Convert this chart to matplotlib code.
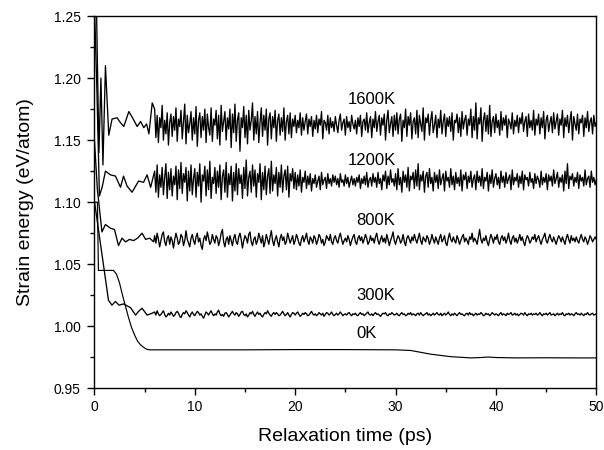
#!/usr/bin/env python
"""Strain energy relaxation at several temperatures."""

import matplotlib
matplotlib.use("Agg")
import matplotlib.pyplot as plt
import numpy as np
from matplotlib.ticker import MultipleLocator, FormatStrFormatter

# ---- data (energies in meV/atom unless noted) ----
# 0 K: smooth curve, eV/atom
T_0K = [0, 0.3, 0.4, 1.9, 2.2, 2.5, 2.8, 3.1, 3.4, 3.7, 4.0, 4.3, 4.6, 4.9, 5.2, 5.5,
        6.0, 10, 15, 20, 25, 30, 31.5, 32.5, 33.5, 34.5, 35.5, 36.5, 37.5, 38.5, 39.2,
        40, 42, 45, 48, 50]
E_0K = [1.100, 1.100, 1.045, 1.045, 1.042, 1.035, 1.025, 1.016, 1.007, 0.999, 0.993,
        0.988, 0.985, 0.983, 0.9815, 0.981, 0.981, 0.981, 0.981, 0.9812, 0.9812, 0.981,
        0.9805, 0.979, 0.9775, 0.9765, 0.9755, 0.975, 0.9745, 0.9748, 0.9752, 0.9748,
        0.9745, 0.9746, 0.9745, 0.9745]

# initial transients (t < 6 ps), eV/atom
T_300_EARLY = [0, 1.4, 1.75, 2.1, 2.45, 2.9, 3.6, 4.1, 4.4, 4.75, 5.25, 5.75]
E_300_EARLY = [1.101, 1.021, 1.017, 1.020, 1.017, 1.018, 1.015, 1.009, 1.012, 1.0145,
               1.009, 1.0105]
T_800_EARLY = [0, 0.3, 0.75, 1.1, 1.6, 2.0, 2.4, 2.75, 3.1, 3.5, 3.9, 4.3, 4.75, 5.1,
               5.5, 5.9]
E_800_EARLY = [1.15, 1.11, 1.076, 1.082, 1.079, 1.078, 1.065, 1.071, 1.068, 1.070, 1.069,
               1.071, 1.075, 1.070, 1.071, 1.068]
T_1200_EARLY = [0, 0.25, 0.5, 0.77, 1.1, 1.6, 2.1, 2.6, 2.9, 3.25, 3.75, 4.4, 4.9, 5.25,
                5.6]
E_1200_EARLY = [1.26, 1.19, 1.105, 1.112, 1.125, 1.122, 1.121, 1.112, 1.121, 1.113, 1.108,
                1.117, 1.116, 1.122, 1.112]
T_1600_EARLY = [0, 0.2, 0.45, 0.65, 0.85, 1.1, 1.43, 1.76, 2.26, 2.6, 2.93, 3.43, 3.8,
                4.26, 4.6, 4.92, 5.2, 5.43, 5.76]
E_1600_EARLY = [1.30, 1.26, 1.14, 1.20, 1.13, 1.21, 1.154, 1.167, 1.168, 1.164, 1.161,
                1.173, 1.168, 1.161, 1.165, 1.160, 1.163, 1.155, 1.180]

# fluctuating part, sampled every 0.125 ps from 6 ps to 50 ps (meV/atom)
T_START, T_STEP = 6.0, 0.125

E_1600 = [
    1175, 1152, 1170, 1148, 1168, 1160, 1178, 1150, 1166, 1155, 1172, 1146, 1164, 1171, 1153, 1169,
    1158, 1176, 1149, 1167, 1161, 1174, 1151, 1165, 1179, 1147, 1170, 1156, 1163, 1173, 1150, 1168,
    1155, 1177, 1145, 1166, 1172, 1152, 1169, 1158, 1175, 1148, 1171, 1160, 1154, 1176, 1149, 1167,
    1162, 1174, 1151, 1170, 1146, 1178, 1157, 1165, 1173, 1150, 1168, 1159, 1175, 1144, 1171, 1156,
    1179, 1149, 1166, 1172, 1141, 1168, 1160, 1177, 1152, 1170, 1147, 1174, 1158, 1166, 1180, 1150,
    1169, 1155, 1173, 1148, 1164, 1176, 1153, 1170, 1158, 1175, 1146, 1167, 1172, 1151, 1169, 1160,
    1174, 1149, 1166, 1171, 1154, 1168, 1157, 1176, 1150, 1165, 1170, 1155, 1172, 1152, 1167, 1161,
    1170, 1156, 1166, 1160, 1172, 1154, 1168, 1158, 1165, 1171, 1155, 1167, 1161, 1169, 1153, 1166,
    1159, 1170, 1156, 1167, 1162, 1173, 1151, 1166, 1164, 1158, 1170, 1155, 1168, 1160, 1165, 1157,
    1169, 1162, 1156, 1166, 1171, 1158, 1164, 1167, 1154, 1169, 1160, 1165, 1157, 1170, 1163, 1159,
    1166, 1155, 1168, 1161, 1170, 1153, 1165, 1167, 1158, 1172, 1156, 1164, 1169, 1152, 1167, 1160,
    1173, 1157, 1165, 1170, 1154, 1168, 1162, 1171, 1150, 1166, 1174, 1156, 1163, 1169, 1153, 1170,
    1158, 1172, 1155, 1167, 1171, 1149, 1166, 1160, 1175, 1153, 1169, 1162, 1172, 1151, 1165, 1168,
    1155, 1174, 1152, 1170, 1163, 1157, 1176, 1150, 1168, 1164, 1171, 1154, 1166, 1173, 1156, 1162,
    1170, 1152, 1167, 1160, 1174, 1155, 1165, 1171, 1153, 1168, 1161, 1169, 1157, 1172, 1150, 1166,
    1164, 1171, 1156, 1168, 1153, 1173, 1159, 1166, 1170, 1154, 1167, 1162, 1175, 1152, 1169, 1158,
    1180, 1151, 1168, 1163, 1176, 1149, 1166, 1172, 1157, 1170, 1155, 1178, 1153, 1165, 1169, 1156,
    1171, 1160, 1166, 1154, 1173, 1158, 1168, 1162, 1170, 1152, 1167, 1164, 1159, 1172, 1155, 1166,
    1161, 1170, 1156, 1168, 1163, 1172, 1157, 1165, 1169, 1153, 1171, 1160, 1166, 1158, 1174, 1154,
    1167, 1162, 1171, 1155, 1168, 1160, 1173, 1151, 1166, 1170, 1157, 1164, 1169, 1156, 1172, 1159,
    1165, 1171, 1154, 1167, 1162, 1174, 1152, 1168, 1161, 1170, 1156, 1166, 1173, 1150, 1169, 1163,
    1158, 1171, 1155, 1167, 1164, 1170, 1153, 1168, 1160, 1173, 1157, 1165, 1168, 1155, 1170, 1161,
    1164,
]

E_1200 = [
    1125, 1108, 1130, 1104, 1122, 1112, 1128, 1106, 1120, 1131, 1103, 1124, 1110, 1127, 1105, 1121,
    1114, 1129, 1102, 1126, 1111, 1132, 1107, 1123, 1116, 1128, 1101, 1125, 1109, 1130, 1106, 1119,
    1127, 1104, 1124, 1113, 1131, 1100, 1122, 1117, 1129, 1105, 1126, 1110, 1133, 1103, 1120, 1115,
    1128, 1107, 1125, 1112, 1130, 1102, 1121, 1126, 1108, 1132, 1104, 1123, 1114, 1129, 1101, 1124,
    1109, 1131, 1106, 1127, 1115, 1122, 1103, 1128, 1111, 1134, 1105, 1120, 1125, 1108, 1130, 1113,
    1126, 1104, 1123, 1116, 1131, 1102, 1124, 1110, 1129, 1106, 1121, 1127, 1107, 1133, 1109, 1122,
    1115, 1128, 1105, 1124, 1112, 1130, 1108, 1121, 1126, 1110, 1129, 1104, 1123, 1117, 1127, 1111,
    1124, 1110, 1122, 1113, 1126, 1108, 1120, 1116, 1125, 1111, 1121, 1114, 1123, 1109, 1119, 1115,
    1122, 1112, 1117, 1121, 1110, 1124, 1114, 1118, 1120, 1111, 1123, 1115, 1119, 1113, 1122, 1116,
    1121, 1114, 1119, 1112, 1123, 1116, 1118, 1113, 1122, 1115, 1120, 1112, 1117, 1121, 1114, 1119,
    1113, 1120, 1116, 1122, 1111, 1119, 1115, 1121, 1114, 1124, 1112, 1118, 1120, 1113, 1123, 1116,
    1120, 1112, 1124, 1115, 1119, 1110, 1122, 1117, 1125, 1111, 1121, 1114, 1126, 1116, 1119, 1113,
    1123, 1110, 1127, 1114, 1120, 1108, 1125, 1116, 1122, 1112, 1128, 1109, 1121, 1118, 1124, 1111,
    1126, 1113, 1131, 1110, 1122, 1117, 1125, 1108, 1121, 1124, 1112, 1127, 1115, 1120, 1109, 1124,
    1116, 1122, 1111, 1126, 1114, 1119, 1123, 1109, 1125, 1117, 1120, 1112, 1127, 1114, 1121, 1110,
    1124, 1115, 1120, 1113, 1126, 1109, 1122, 1118, 1124, 1111, 1121, 1116, 1125, 1112, 1119, 1122,
    1110, 1125, 1116, 1121, 1113, 1127, 1111, 1120, 1117, 1124, 1109, 1122, 1115, 1126, 1112, 1119,
    1123, 1114, 1120, 1111, 1125, 1116, 1121, 1112, 1124, 1115, 1119, 1122, 1110, 1126, 1114, 1120,
    1117, 1123, 1112, 1121, 1115, 1125, 1110, 1122, 1118, 1120, 1113, 1124, 1116, 1119, 1111, 1123,
    1115, 1121, 1118, 1112, 1125, 1114, 1120, 1116, 1123, 1110, 1122, 1117, 1121, 1113, 1126, 1115,
    1119, 1124, 1112, 1120, 1116, 1122, 1109, 1125, 1115, 1131, 1111, 1121, 1118, 1123, 1113, 1120,
    1116, 1124, 1111, 1122, 1117, 1120, 1113, 1126, 1114, 1119, 1121, 1112, 1125, 1116, 1120, 1114,
    1118,
]

E_800 = [
    1073, 1067, 1075, 1070, 1064, 1069, 1074, 1076, 1068, 1065, 1071, 1073, 1066, 1072, 1069, 1063,
    1070, 1075, 1071, 1066, 1068, 1074, 1072, 1065, 1069, 1077, 1070, 1067, 1064, 1071, 1074, 1069,
    1066, 1072, 1075, 1068, 1071, 1065, 1062, 1070, 1073, 1069, 1076, 1071, 1066, 1068, 1074, 1070,
    1067, 1073, 1071, 1065, 1069, 1075, 1078, 1068, 1064, 1070, 1072, 1066, 1073, 1069, 1065, 1071,
    1074, 1068, 1066, 1072, 1075, 1070, 1063, 1069, 1073, 1071, 1067, 1074, 1076, 1068, 1065, 1070,
    1072, 1066, 1069, 1075, 1071, 1067, 1073, 1064, 1068, 1074, 1070, 1066, 1072, 1077, 1069, 1065,
    1070, 1073, 1068, 1064, 1071, 1074, 1069, 1072, 1066, 1068, 1075, 1071, 1067, 1070, 1073, 1066,
    1069, 1074, 1071, 1067, 1065, 1070, 1073, 1068, 1071, 1075, 1069, 1066, 1072, 1070, 1067, 1073,
    1071, 1066, 1069, 1074, 1072, 1067, 1070, 1065, 1068, 1073, 1071, 1069, 1074, 1068, 1066, 1071,
    1073, 1069, 1067, 1072, 1075, 1070, 1066, 1069, 1071, 1068, 1073, 1070, 1065, 1069, 1072, 1074,
    1068, 1066, 1071, 1073, 1069, 1072, 1067, 1070, 1074, 1071, 1066, 1068, 1073, 1069, 1071, 1067,
    1072, 1075, 1069, 1066, 1070, 1073, 1068, 1071, 1067, 1074, 1070, 1065, 1069, 1072, 1076, 1069,
    1066, 1070, 1073, 1071, 1067, 1069, 1074, 1068, 1065, 1071, 1073, 1070, 1067, 1072, 1069, 1074,
    1070, 1067, 1071, 1075, 1069, 1066, 1072, 1070, 1068, 1073, 1071, 1066, 1069, 1074, 1070, 1067,
    1072, 1069, 1066, 1071, 1074, 1068, 1070, 1073, 1067, 1065, 1071, 1075, 1070, 1068, 1072, 1069,
    1067, 1073, 1070, 1066, 1069, 1072, 1074, 1068, 1071, 1069, 1066, 1072, 1070, 1075, 1068, 1071,
    1069, 1066, 1072, 1078, 1070, 1067, 1071, 1069, 1073, 1068, 1065, 1070, 1074, 1071, 1067, 1072,
    1070, 1074, 1068, 1066, 1071, 1073, 1069, 1072, 1067, 1070, 1075, 1069, 1066, 1071, 1073, 1068,
    1071, 1067, 1070, 1074, 1069, 1072, 1068, 1065, 1070, 1073, 1071, 1067, 1069, 1072, 1070, 1074,
    1068, 1071, 1073, 1069, 1066, 1070, 1072, 1075, 1069, 1067, 1071, 1074, 1070, 1068, 1072, 1069,
    1066, 1070, 1073, 1071, 1068, 1072, 1069, 1066, 1071, 1074, 1070, 1067, 1073, 1069, 1071, 1068,
    1072, 1069, 1067, 1071, 1074, 1070, 1068, 1072, 1070, 1066, 1069, 1073, 1071, 1068, 1070, 1072,
    1070,
]

E_300 = [
    1011.5, 1009.0, 1012.5, 1010.0, 1008.5, 1009.5, 1011.0, 1012.5, 1009.5, 1007.5, 1008.5, 1010.5, 1009.0, 1011.5, 1010.0, 1008.0,
    1009.0, 1011.0, 1012.0, 1010.5, 1008.0, 1007.0, 1009.5, 1011.0, 1010.0, 1012.5, 1011.0, 1009.0, 1007.5, 1010.0, 1011.5, 1009.5,
    1008.5, 1010.5, 1012.0, 1011.0, 1009.0, 1010.0, 1008.0, 1006.5, 1009.0, 1011.5, 1010.5, 1009.0, 1011.0, 1012.5, 1010.0, 1008.5,
    1010.0, 1009.0, 1011.5, 1013.0, 1010.0, 1008.5, 1009.5, 1008.0, 1010.5, 1011.0, 1009.5, 1007.5, 1009.0, 1010.5, 1012.0, 1010.0,
    1009.0, 1011.0, 1010.0, 1008.0, 1009.5, 1011.5, 1012.0, 1009.5, 1008.5, 1010.0, 1007.5, 1009.0, 1011.0, 1010.0, 1012.0, 1009.5,
    1008.0, 1010.0, 1011.5, 1009.5, 1010.5, 1008.5, 1007.5, 1009.5, 1011.0, 1010.0, 1012.5, 1010.5, 1009.0, 1008.0, 1010.0, 1011.0,
    1009.5, 1011.0, 1010.0, 1008.5, 1009.0, 1010.5, 1012.0, 1010.0, 1008.5, 1009.5, 1011.0, 1009.0, 1007.5, 1009.5, 1011.0, 1010.5,
    1009.0, 1010.5, 1011.5, 1009.5, 1008.0, 1009.0, 1010.5, 1009.5, 1011.0, 1010.0, 1008.5, 1009.0, 1010.5, 1012.0, 1010.0, 1009.0,
    1010.0, 1008.5, 1009.5, 1011.0, 1010.0, 1009.0, 1010.5, 1008.0, 1009.5, 1011.0, 1010.5, 1009.0, 1010.0, 1011.5, 1009.5, 1008.5,
    1009.5, 1010.5, 1009.0, 1010.0, 1011.5, 1010.0, 1008.5, 1009.5, 1010.0, 1009.0, 1010.5, 1011.0, 1009.5, 1008.5, 1010.0, 1009.5,
    1010.5, 1009.0, 1008.5, 1010.0, 1011.0, 1009.5, 1010.0, 1008.5, 1009.5, 1010.5, 1011.5, 1009.5, 1009.0, 1010.0, 1008.5, 1010.0,
    1011.0, 1009.5, 1010.0, 1009.0, 1008.0, 1009.5, 1010.5, 1010.0, 1011.0, 1009.0, 1008.5, 1010.0, 1009.5, 1011.0, 1010.0, 1009.0,
    1009.5, 1010.5, 1009.0, 1008.5, 1010.0, 1011.0, 1009.5, 1010.0, 1008.5, 1009.0, 1010.5, 1009.5, 1011.0, 1009.0, 1010.0, 1009.5,
    1008.5, 1010.0, 1010.5, 1009.0, 1011.0, 1009.5, 1008.5, 1009.5, 1010.0, 1011.0, 1009.0, 1010.0, 1008.5, 1009.5, 1010.5, 1009.0,
    1010.0, 1011.0, 1009.5, 1009.0, 1010.5, 1008.5, 1009.5, 1010.5, 1009.0, 1010.0, 1011.5, 1009.5, 1008.5, 1010.0, 1009.0, 1010.5,
    1009.5, 1008.5, 1010.0, 1011.0, 1009.5, 1010.0, 1009.0, 1008.5, 1010.0, 1010.5, 1009.0, 1011.0, 1009.5, 1010.0, 1008.5, 1009.5,
    1010.5, 1009.0, 1010.0, 1009.5, 1011.0, 1010.0, 1008.5, 1009.0, 1010.5, 1009.5, 1010.0, 1008.5, 1009.5, 1011.0, 1010.0, 1009.0,
    1010.0, 1009.5, 1008.5, 1010.0, 1011.0, 1009.0, 1010.0, 1009.5, 1008.5, 1010.5, 1009.5, 1010.0, 1011.0, 1009.0, 1009.5, 1010.5,
    1009.0, 1010.0, 1008.5, 1009.5, 1010.5, 1010.0, 1009.0, 1011.0, 1009.5, 1008.5, 1010.0, 1009.5, 1010.5, 1009.0, 1010.0, 1009.5,
    1010.5, 1009.0, 1009.5, 1011.0, 1009.5, 1008.5, 1010.0, 1009.5, 1010.5, 1009.0, 1010.0, 1011.0, 1009.0, 1009.5, 1010.0, 1008.5,
    1009.5, 1010.5, 1009.0, 1010.0, 1009.5, 1011.0, 1009.0, 1008.5, 1010.0, 1009.5, 1010.5, 1009.0, 1010.0, 1009.5, 1008.5, 1010.0,
    1011.0, 1009.5, 1010.0, 1009.0, 1010.5, 1009.5, 1008.5, 1010.0, 1009.5, 1011.0, 1009.5, 1009.0, 1010.0, 1010.5, 1009.0, 1009.5,
    1010.0,
]

LABELS = ["1600K", "1200K", "800K", "300K", "0K"]
LABEL_X = [27.6, 27.6, 28.0, 28.0, 27.1]
LABEL_Y = [1.1825, 1.1335, 1.0855, 1.0245, 0.9945]


def trace(t_early, e_early, e_noise):
    t_noise = T_START + T_STEP * np.arange(len(e_noise))
    t = np.concatenate([t_early, t_noise])
    e = np.concatenate([e_early, np.asarray(e_noise, dtype=float) / 1000.0])
    return t, e


def build():
    plt.rcParams.update({
        "font.family": ["Liberation Sans", "DejaVu Sans"],
        "font.size": 10,
    })
    fig = plt.figure(figsize=(6.04, 4.5), dpi=100)
    ax = fig.add_axes([0.1563, 0.1371, 0.831, 0.8273])

    ax.plot(T_0K, E_0K, color="black", lw=0.85)
    for t_e, e_e, e_n in [
        (T_300_EARLY, E_300_EARLY, E_300),
        (T_800_EARLY, E_800_EARLY, E_800),
        (T_1200_EARLY, E_1200_EARLY, E_1200),
        (T_1600_EARLY, E_1600_EARLY, E_1600),
    ]:
        t, e = trace(t_e, e_e, e_n)
        ax.plot(t, e, color="black", lw=0.95)

    for text, x, y in zip(LABELS, LABEL_X, LABEL_Y):
        ax.text(x, y, text, ha="center", va="center", fontsize=12)

    ax.set_xlim(0, 50)
    ax.set_ylim(0.95, 1.25)
    ax.xaxis.set_major_locator(MultipleLocator(10))
    ax.xaxis.set_minor_locator(MultipleLocator(5))
    ax.yaxis.set_major_locator(MultipleLocator(0.05))
    ax.yaxis.set_minor_locator(MultipleLocator(0.025))
    ax.yaxis.set_major_formatter(FormatStrFormatter("%.2f"))
    ax.tick_params(which="both", direction="out", top=False, right=False, labelsize=10,
                   width=1.0)
    ax.tick_params(which="major", length=5)
    ax.tick_params(which="minor", length=3)
    ax.tick_params(axis="y", which="major", pad=5)
    for spine in ax.spines.values():
        spine.set_linewidth(1.0)

    ax.set_xlabel("Relaxation time (ps)", fontsize=14, labelpad=10)
    ax.set_ylabel("Strain energy (eV/atom)", fontsize=14, labelpad=14)

    fig.savefig("out.png", dpi=100)
    plt.close(fig)


if __name__ == "__main__":
    build()
